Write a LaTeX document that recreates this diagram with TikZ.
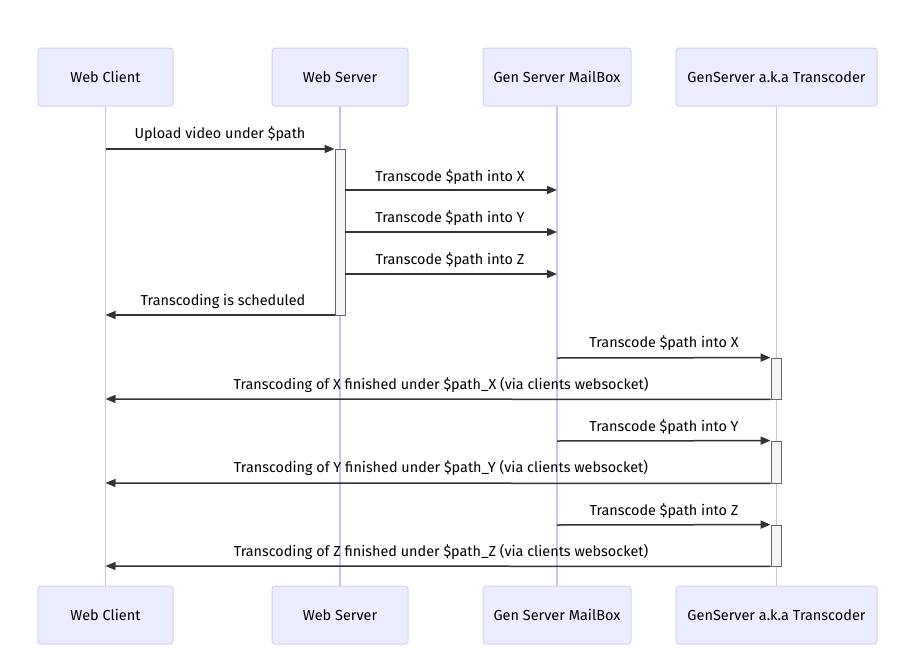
\documentclass[tikz,border=0pt]{standalone}
\usepackage{fontspec}
\setmainfont{Fira Sans}
\usetikzlibrary{arrows.meta}
\definecolor{actfill}{HTML}{ECECFF}
\definecolor{actline}{HTML}{D8D0F5}
\definecolor{lifel}{HTML}{CFC2F2}
\definecolor{barfill}{HTML}{F4F4F4}
\definecolor{barline}{HTML}{666666}
\definecolor{msgc}{HTML}{333333}
\tikzset{
  actor/.style={draw=actline, fill=actfill, line width=1pt, rounded corners=3pt,
    minimum height=58pt, inner sep=0pt, font=\fontsize{14.5}{17}\selectfont, text=black},
  life/.style={draw=lifel, line width=1.7pt},
  actbar/.style={draw=barline, fill=barfill, line width=0.8pt, minimum width=10pt, inner sep=0pt},
  msg/.style={draw=msgc, line width=1.5pt, -{Triangle[length=10pt,width=8pt]}},
  lbl/.style={font=\fontsize{14.4}{17}\selectfont, text=black, inner sep=0pt},
}
\begin{document}
\begin{tikzpicture}[x=1pt,y=-1pt]
\useasboundingbox (0,0) rectangle (903,659);
% lifelines
\coordinate (l1t) at (105.5,106); \coordinate (l1b) at (105.5,586);
\coordinate (l2t) at (340,106); \coordinate (l2b) at (340,586);
\coordinate (l3t) at (557,106); \coordinate (l3b) at (557,586);
\coordinate (l4t) at (776.5,106); \coordinate (l4b) at (776.5,586);
\draw[life] (l1t) -- (l1b);
\draw[life] (l2t) -- (l2b);
\draw[life] (l3t) -- (l3b);
\draw[life] (l4t) -- (l4b);
% actors top
\node[actor, minimum width=135pt] (wc) at (105.5,77) {Web Client};
\node[actor, minimum width=136pt] (ws) at (340,77) {Web Server};
\node[actor, minimum width=148pt] (mb) at (557,77) {Gen Server MailBox};
\node[actor, minimum width=201pt] (tc) at (776.5,77) {GenServer a.k.a Transcoder};
% actors bottom
\node[actor, minimum width=135pt] (wc2) at (105.5,615) {Web Client};
\node[actor, minimum width=136pt] (ws2) at (340,615) {Web Server};
\node[actor, minimum width=148pt] (mb2) at (557,615) {Gen Server MailBox};
\node[actor, minimum width=201pt] (tc2) at (776.5,615) {GenServer a.k.a Transcoder};
% activation bars
\node[actbar, minimum height=166pt] (a1) at (340,232) {};
\node[actbar, minimum height=41pt] (a2) at (776,378.5) {};
\node[actbar, minimum height=42pt] (a3) at (776,462) {};
\node[actbar, minimum height=41pt] (a4) at (776,545.5) {};
% message anchor points on lifelines
\coordinate (p1) at (105.5,149);
\coordinate (p2) at (557,190);
\coordinate (p3) at (557,232);
\coordinate (p4) at (557,274);
\coordinate (p5) at (105.5,315);
\coordinate (p6) at (557,358);
\coordinate (p7) at (105.5,399);
\coordinate (p8) at (557,441);
\coordinate (p9) at (105.5,483);
\coordinate (p10) at (557,525);
\coordinate (p11) at (105.5,566);
% messages
\draw[msg] (p1) -- (a1.west |- p1);
\draw[msg] (a1.east |- p2) -- (p2);
\draw[msg] (a1.east |- p3) -- (p3);
\draw[msg] (a1.east |- p4) -- (p4);
\draw[msg] (a1.south west |- p5) -- (p5);
\draw[msg] (p6) -- (a2.north west);
\draw[msg] (a2.south west) -- (p7);
\draw[msg] (p8) -- (a3.north west);
\draw[msg] (a3.south west) -- (p9);
\draw[msg] (p10) -- (a4.north west);
\draw[msg] (a4.south west) -- (p11);
% labels
\node[lbl] (t1) at (220,134) {Upload video under \$path};
\node[lbl] (t2) at (450,177) {Transcode \$path into X};
\node[lbl] (t3) at (450,218) {Transcode \$path into Y};
\node[lbl] (t4) at (450,260) {Transcode \$path into Z};
\node[lbl] (t5) at (223,301) {Transcoding is scheduled};
\node[lbl] (t6) at (664,343) {Transcode \$path into X};
\node[lbl] (t7) at (441,385) {Transcoding of X finished under \$path\_X (via clients websocket)};
\node[lbl] (t8) at (664,427) {Transcode \$path into Y};
\node[lbl] (t9) at (441,468) {Transcoding of Y finished under \$path\_Y (via clients websocket)};
\node[lbl] (t10) at (664,511) {Transcode \$path into Z};
\node[lbl] (t11) at (441,552) {Transcoding of Z finished under \$path\_Z (via clients websocket)};
\end{tikzpicture}
\end{document}
